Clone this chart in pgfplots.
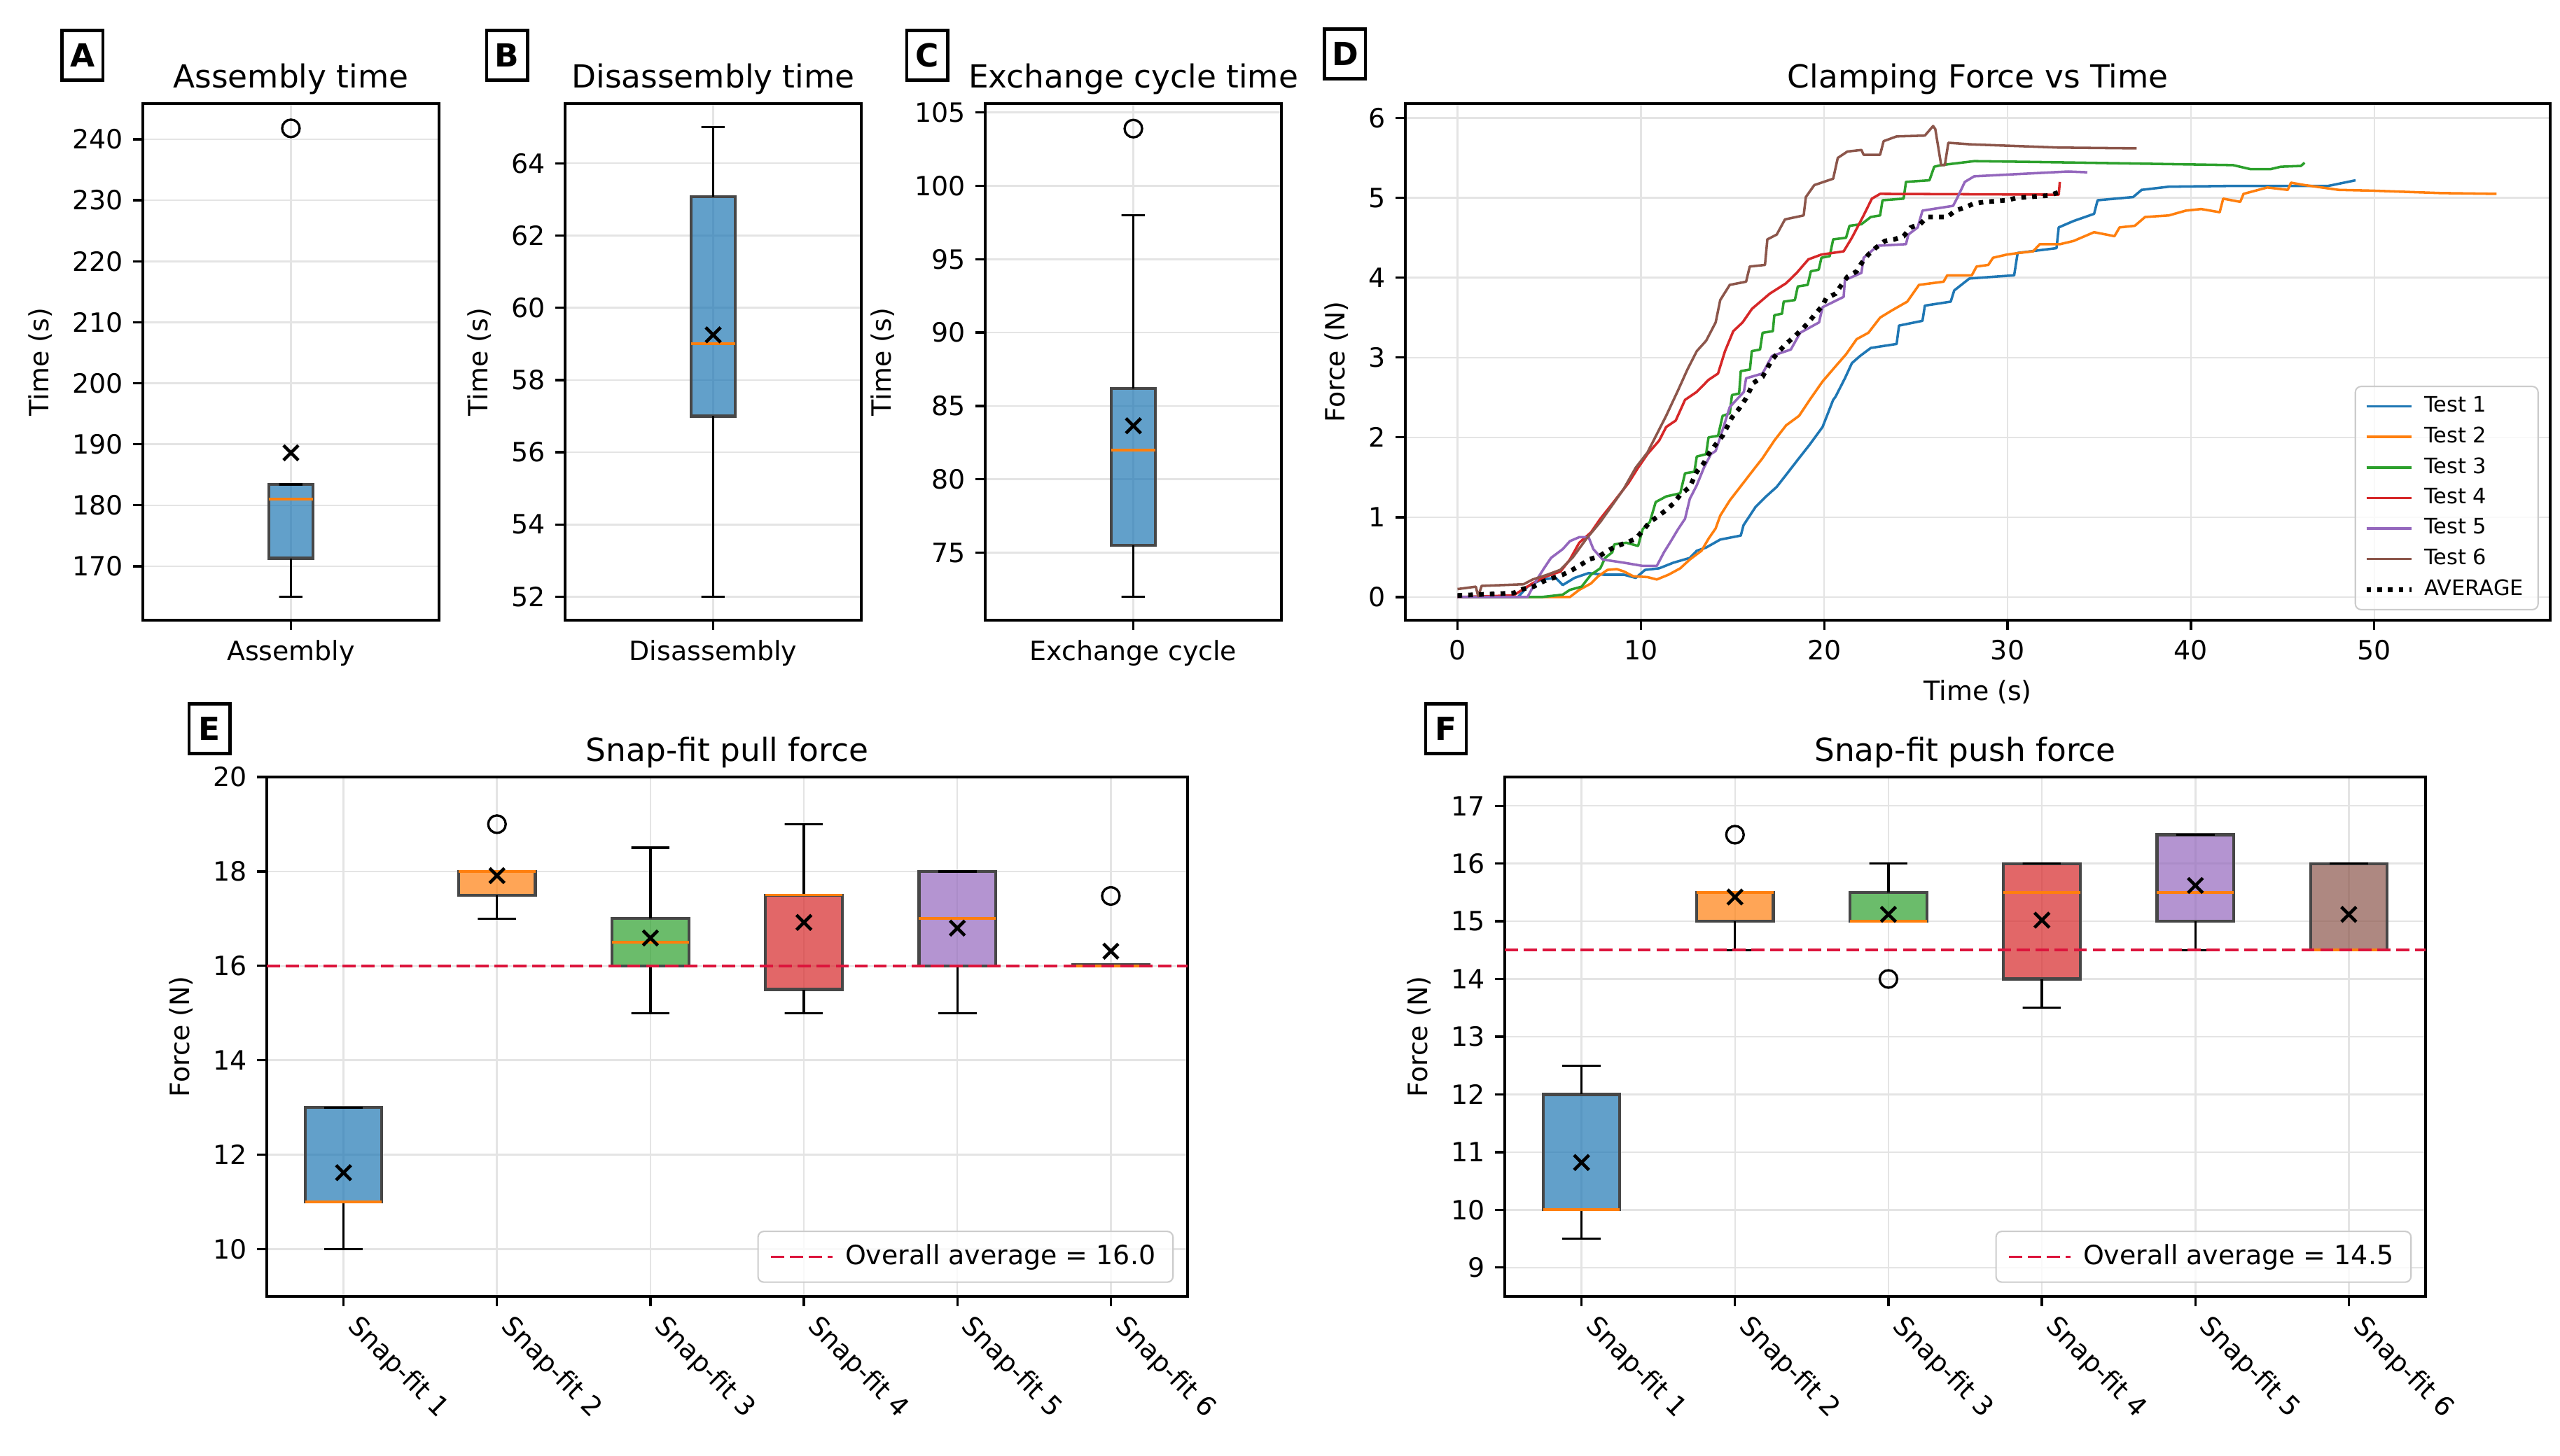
\documentclass[border=0pt]{standalone}
\usepackage{pgfplots}
\pgfplotsset{compat=1.18}
\usepackage{fontspec}
\setmainfont{DejaVu Sans}

\definecolor{tabblue}{HTML}{1F77B4}
\definecolor{taborange}{HTML}{FF7F0E}
\definecolor{tabgreen}{HTML}{2CA02C}
\definecolor{tabred}{HTML}{D62728}
\definecolor{tabpurple}{HTML}{9467BD}
\definecolor{tabbrown}{HTML}{8C564B}
\definecolor{gridgray}{HTML}{E4E4E4}
\definecolor{avgred}{HTML}{DC143C}

\newcommand{\fsTick}{\fontsize{9.1}{11}\selectfont}
\newcommand{\fsTitle}{\fontsize{10.9}{13}\selectfont}

\pgfplotsset{
  panel/.style={
    scale only axis,
    anchor=south west,
    axis line style={line width=0.9pt},
    tick style={line width=0.8pt, black},
    major tick length=3.3pt,
    tick align=outside,
    tick pos=left,
    grid=major,
    grid style={gridgray, line width=0.6pt},
    enlargelimits=false,
    /pgf/number format/assume math mode=true,
    tick label style={font=\fsTick},
    label style={font=\fsTick},
    title style={font=\fsTitle, yshift=-6.3pt},
  },
  whisk/.style={black, line width=0.8pt, forget plot},
  medl/.style={taborange, line width=0.9pt, forget plot},
  boxs/.style={draw=black!72, fill=#1, fill opacity=0.7, line width=1pt, forget plot},
  outl/.style={only marks, mark=o, mark size=3pt, mark options={black, line width=0.8pt}, forget plot},
  meanmark/.style={only marks, mark=x, mark size=3.6pt, mark options={black, line width=1.1pt}, forget plot},
  pl/.style={#1, line width=0.85pt, line join=round},
  snapx/.style={xtick={1,...,6},
    xticklabels={Snap-fit 1,Snap-fit 2,Snap-fit 3,Snap-fit 4,Snap-fit 5,Snap-fit 6},
    xticklabel style={xshift=6pt, yshift=2.5pt, rotate=-45, anchor=north west, font=\fsTick},
    legend image code/.code={\draw[##1] (0pt,0pt) -- (21pt,0pt);},
    legend style={at={(0.985,0.026)}, anchor=south east, draw=black!20, rounded corners=2pt,
      fill=white, fill opacity=0.8, text opacity=1, font=\fsTick, inner xsep=4pt, inner ysep=2.5pt,
      line width=0.5pt, column sep=2pt}},
}

\begin{document}
\begin{tikzpicture}
\useasboundingbox (0,0) rectangle (877.44pt,498.96pt);

% ---------- A ----------
\begin{axis}[panel, at={(48.96pt,286.32pt)}, width=101.5pt, height=177.1pt,
  xmin=0.5, xmax=1.5, ymin=161.15, ymax=245.85, xtick={1}, xticklabels={Assembly},
  ytick={170,180,...,240}, ylabel={Time (s)}, title={Assembly time}]
\addplot[boxs=tabblue] coordinates {(0.925,171.3) (1.075,171.3) (1.075,183.4) (0.925,183.4)} -- cycle;
\addplot[whisk] coordinates {(1,171.3) (1,165) (0.96,165) (1.04,165)};
\addplot[whisk] coordinates {(1,183.4) (0.96,183.4) (1.04,183.4)};
\addplot[medl] coordinates {(0.925,181) (1.075,181)};
\addplot[outl] coordinates {(1,241.8)};
\addplot[meanmark] coordinates {(1,188.6)};
\end{axis}

% ---------- B ----------
\begin{axis}[panel, at={(193.7pt,286.32pt)}, width=101.5pt, height=177.1pt,
  xmin=0.5, xmax=1.5, ymin=51.35, ymax=65.65, xtick={1}, xticklabels={Disassembly},
  ytick={52,54,...,64}, ylabel={Time (s)}, title={Disassembly time}]
\addplot[boxs=tabblue] coordinates {(0.925,57) (1.075,57) (1.075,63.08) (0.925,63.08)} -- cycle;
\addplot[whisk] coordinates {(1,57) (1,52) (0.96,52) (1.04,52)};
\addplot[whisk] coordinates {(1,63.08) (1,65) (0.96,65) (1.04,65)};
\addplot[medl] coordinates {(0.925,59) (1.075,59)};
\addplot[meanmark] coordinates {(1,59.25)};
\end{axis}

% ---------- C ----------
\begin{axis}[panel, at={(337.7pt,286.32pt)}, width=101.5pt, height=177.1pt,
  xmin=0.5, xmax=1.5, ymin=70.4, ymax=105.6, xtick={1}, xticklabels={Exchange cycle},
  ytick={75,80,...,105}, ylabel={Time (s)}, title={Exchange cycle time}]
\addplot[boxs=tabblue] coordinates {(0.925,75.5) (1.075,75.5) (1.075,86.2) (0.925,86.2)} -- cycle;
\addplot[whisk] coordinates {(1,75.5) (1,72) (0.96,72) (1.04,72)};
\addplot[whisk] coordinates {(1,86.2) (1,98) (0.96,98) (1.04,98)};
\addplot[medl] coordinates {(0.925,82) (1.075,82)};
\addplot[outl] coordinates {(1,103.9)};
\addplot[meanmark] coordinates {(1,83.65)};
\end{axis}

% ---------- D ----------
\begin{axis}[panel, at={(481.7pt,286.32pt)}, width=392.4pt, height=177.1pt,
  xmin=-2.84, xmax=59.6, ymin=-0.29, ymax=6.18, xtick={0,10,...,50}, ytick={0,1,...,6},
  xlabel={Time (s)}, ylabel={Force (N)}, title={Clamping Force vs Time},
  legend cell align=left,
  legend image code/.code={\draw[#1] (0pt,0pt) -- (15.5pt,0pt);},
  legend style={at={(0.99,0.019)}, anchor=south east, draw=black!20, rounded corners=2pt,
    fill=white, fill opacity=0.8, text opacity=1, font=\fontsize{7.3}{8.8}\selectfont,
    row sep=-0.4pt, column sep=1.5pt, inner xsep=3pt, inner ysep=1.4pt, line width=0.5pt}]
\addplot[pl=tabblue] coordinates {(0,0) (3.3,0) (3.82,0.13) (4.59,0.22) (5.36,0.24) (5.74,0.15) (6.38,0.24) (7.15,0.3) (7.97,0.28) (9.08,0.28) (9.72,0.24) (10.23,0.34) (11.0,0.36) (11.77,0.43) (12.67,0.49) (13.05,0.58) (13.56,0.62) (14.33,0.72) (15.45,0.77) (15.6,0.9) (16.26,1.13) (16.83,1.26) (17.41,1.38) (17.92,1.53) (18.56,1.72) (19.21,1.91) (19.91,2.13) (20.49,2.47) (20.62,2.51) (21.13,2.74) (21.51,2.93) (21.96,3.02) (22.54,3.12) (23.95,3.17) (24.08,3.4) (25.36,3.46) (25.49,3.65) (26.9,3.7) (27.09,3.84) (27.92,3.99) (30.36,4.03) (30.55,4.31) (32.67,4.37) (32.79,4.63) (33.6,4.71) (34.72,4.8) (34.91,4.97) (36.85,5.01) (37.31,5.1) (38.8,5.14) (42.5,5.15) (47.5,5.15) (48.98,5.22)};
\addlegendentry{Test 1}
\addplot[pl=taborange] coordinates {(0,0) (6.13,0) (6.64,0.09) (7.28,0.17) (7.67,0.26) (8.18,0.34) (8.69,0.35) (9.08,0.32) (9.59,0.26) (10.36,0.25) (10.87,0.22) (11.51,0.28) (12.15,0.36) (12.67,0.47) (13.31,0.58) (13.69,0.73) (14.08,0.86) (14.33,1.02) (14.85,1.21) (15.49,1.4) (16.06,1.57) (16.64,1.74) (17.28,1.96) (17.92,2.15) (18.63,2.27) (19.21,2.47) (19.91,2.7) (20.62,2.89) (21.19,3.04) (21.77,3.23) (22.41,3.31) (23.05,3.5) (23.69,3.59) (24.53,3.7) (25.17,3.91) (26.51,3.95) (26.71,4.03) (28.05,4.03) (28.31,4.14) (28.95,4.16) (29.21,4.25) (29.97,4.29) (30.62,4.31) (31.39,4.33) (31.76,4.42) (32.87,4.42) (33.6,4.46) (34.72,4.57) (35.83,4.52) (36.11,4.63) (36.94,4.65) (37.5,4.76) (38.8,4.78) (39.72,4.84) (40.56,4.86) (41.57,4.82) (41.76,4.99) (42.69,4.95) (42.87,5.05) (44.17,5.13) (45.28,5.1) (45.46,5.19) (46.2,5.16) (48.06,5.1) (49.91,5.09) (53.6,5.06) (56.67,5.05)};
\addlegendentry{Test 2}
\addplot[pl=tabgreen] coordinates {(0,0) (4.59,0) (5.74,0.03) (6.13,0.09) (6.77,0.13) (7.28,0.28) (7.79,0.36) (8.05,0.49) (8.44,0.56) (8.56,0.66) (9.21,0.68) (9.85,0.64) (10.1,0.85) (10.49,0.94) (10.81,1.19) (11.38,1.26) (12.15,1.3) (12.41,1.55) (12.92,1.57) (13.05,1.76) (13.56,1.79) (13.69,2.0) (14.21,2.02) (14.46,2.27) (14.85,2.3) (14.97,2.53) (15.36,2.55) (15.45,2.83) (15.95,2.85) (16.05,3.08) (16.5,3.1) (16.64,3.31) (17.2,3.33) (17.28,3.53) (17.7,3.55) (17.79,3.7) (18.4,3.72) (18.56,3.89) (19.1,3.91) (19.27,4.08) (19.7,4.1) (19.85,4.25) (20.3,4.27) (20.49,4.48) (21.19,4.5) (21.38,4.65) (22.03,4.67) (22.54,4.76) (23.05,4.78) (23.18,4.97) (24.33,4.99) (24.46,5.2) (25.74,5.22) (26.0,5.39) (26.38,5.41) (28.18,5.46) (31.39,5.45) (36.94,5.43) (42.3,5.41) (43.24,5.36) (44.35,5.36) (44.9,5.39) (46.0,5.4) (46.2,5.44)};
\addlegendentry{Test 3}
\addplot[pl=tabred] coordinates {(0,0) (3.05,0.02) (4.08,0.17) (4.85,0.26) (5.62,0.32) (6.13,0.47) (6.64,0.68) (7.28,0.81) (7.79,0.98) (8.31,1.13) (8.82,1.28) (9.33,1.43) (9.85,1.62) (10.36,1.79) (11.0,1.96) (11.38,2.13) (11.9,2.21) (12.41,2.47) (13.05,2.57) (13.69,2.72) (14.21,2.8) (14.59,3.08) (15.04,3.33) (15.55,3.44) (16.06,3.61) (17.03,3.8) (17.92,3.93) (18.5,4.06) (19.14,4.23) (19.85,4.29) (21.06,4.33) (21.51,4.5) (22.15,4.78) (22.6,4.99) (23.05,5.05) (32.79,5.04) (32.85,5.2)};
\addlegendentry{Test 4}
\addplot[pl=tabpurple] coordinates {(0,0) (3.82,0) (4.33,0.22) (4.72,0.36) (5.1,0.49) (5.74,0.6) (6.13,0.7) (6.64,0.75) (7.15,0.75) (7.41,0.6) (7.92,0.47) (9.08,0.43) (10.1,0.39) (10.87,0.39) (11.26,0.56) (11.64,0.7) (12.03,0.85) (12.41,0.98) (12.67,1.23) (13.05,1.4) (13.44,1.62) (13.82,1.79) (14.08,1.83) (14.33,2.0) (14.85,2.38) (15.62,2.57) (15.74,2.74) (16.64,2.8) (17.15,3.02) (18.18,3.1) (18.69,3.31) (19.72,3.44) (19.91,3.63) (21.06,3.76) (21.13,3.97) (22.03,4.06) (22.15,4.25) (22.92,4.4) (24.46,4.42) (24.59,4.54) (25.1,4.63) (25.36,4.84) (27.03,4.9) (27.28,5.01) (27.67,5.2) (28.18,5.27) (33.3,5.33) (34.35,5.32)};
\addlegendentry{Test 5}
\addplot[pl=tabbrown] coordinates {(0,0.1) (1.0,0.13) (1.13,0.01) (1.32,0.14) (2.5,0.15) (3.6,0.16) (4.1,0.22) (4.9,0.28) (5.6,0.34) (6.3,0.5) (7.03,0.73) (7.79,0.94) (8.44,1.15) (9.08,1.36) (9.72,1.62) (10.36,1.81) (10.87,2.04) (11.38,2.27) (12.03,2.59) (12.54,2.85) (13.05,3.08) (13.56,3.21) (14.08,3.44) (14.33,3.72) (14.85,3.91) (15.74,3.95) (15.94,4.14) (16.77,4.16) (16.9,4.48) (17.41,4.54) (17.86,4.73) (18.88,4.78) (19.0,5.01) (19.46,5.16) (20.49,5.24) (20.74,5.5) (21.26,5.58) (22.03,5.6) (22.15,5.54) (23.05,5.54) (23.24,5.71) (23.95,5.77) (25.49,5.78) (25.94,5.9) (26.06,5.86) (26.38,5.41) (26.58,5.41) (26.77,5.69) (28,5.67) (32.78,5.63) (37.04,5.62)};
\addlegendentry{Test 6}
\addplot[black, line width=1.6pt, dash pattern=on 1.6pt off 2.1pt] coordinates {(0,0.02) (3.05,0.05) (3.56,0.1) (4.14,0.13) (4.72,0.2) (5.23,0.24) (5.74,0.28) (6.26,0.34) (6.77,0.41) (7.15,0.47) (7.73,0.51) (8.18,0.58) (8.69,0.64) (9.21,0.68) (9.72,0.73) (10.1,0.83) (10.49,0.94) (10.87,1.0) (11.38,1.09) (11.77,1.17) (12.15,1.28) (12.67,1.38) (13.05,1.57) (13.44,1.68) (13.69,1.79) (14.08,1.91) (14.46,2.02) (14.97,2.25) (15.36,2.36) (15.74,2.49) (16.13,2.68) (16.64,2.76) (17.15,2.97) (17.54,3.08) (17.92,3.17) (18.31,3.25) (18.82,3.36) (19.14,3.44) (19.53,3.55) (19.91,3.65) (20.1,3.74) (20.62,3.8) (21.0,3.93) (21.26,4.01) (21.77,4.08) (22.03,4.18) (22.41,4.29) (22.79,4.37) (23.31,4.46) (23.82,4.48) (24.33,4.52) (24.72,4.63) (25.23,4.67) (25.62,4.76) (26.71,4.76) (27.15,4.84) (27.67,4.88) (28.18,4.93) (28.82,4.95) (29.97,4.97) (30.49,5.0) (31.71,5.02) (32.28,5.03) (32.79,5.07)};
\addlegendentry{AVERAGE}
\end{axis}

% ---------- E ----------
\begin{axis}[panel, snapx, at={(91.44pt,54.48pt)}, width=315.6pt, height=178.1pt,
  xmin=0.5, xmax=6.5, ymin=9, ymax=20,
  ytick={10,12,...,20}, ylabel={Force (N)}, title={Snap-fit pull force}]
% 1
\addplot[boxs=tabblue] coordinates {(0.75,11) (1.25,11) (1.25,13) (0.75,13)} -- cycle;
\addplot[whisk] coordinates {(1,11) (1,10) (0.875,10) (1.125,10)};
\addplot[whisk] coordinates {(1,13) (0.875,13) (1.125,13)};
\addplot[medl] coordinates {(0.75,11) (1.25,11)};
% 2
\addplot[boxs=taborange] coordinates {(1.75,17.5) (2.25,17.5) (2.25,18) (1.75,18)} -- cycle;
\addplot[whisk] coordinates {(2,17.5) (2,17) (1.875,17) (2.125,17)};
\addplot[whisk] coordinates {(2,18) (1.875,18) (2.125,18)};
\addplot[medl] coordinates {(1.75,18) (2.25,18)};
% 3
\addplot[boxs=tabgreen] coordinates {(2.75,16) (3.25,16) (3.25,17) (2.75,17)} -- cycle;
\addplot[whisk] coordinates {(3,16) (3,15) (2.875,15) (3.125,15)};
\addplot[whisk] coordinates {(3,17) (3,18.5) (2.875,18.5) (3.125,18.5)};
\addplot[medl] coordinates {(2.75,16.5) (3.25,16.5)};
% 4
\addplot[boxs=tabred] coordinates {(3.75,15.5) (4.25,15.5) (4.25,17.5) (3.75,17.5)} -- cycle;
\addplot[whisk] coordinates {(4,15.5) (4,15) (3.875,15) (4.125,15)};
\addplot[whisk] coordinates {(4,17.5) (4,19) (3.875,19) (4.125,19)};
\addplot[medl] coordinates {(3.75,17.5) (4.25,17.5)};
% 5
\addplot[boxs=tabpurple] coordinates {(4.75,16) (5.25,16) (5.25,18) (4.75,18)} -- cycle;
\addplot[whisk] coordinates {(5,16) (5,15) (4.875,15) (5.125,15)};
\addplot[whisk] coordinates {(5,18) (4.875,18) (5.125,18)};
\addplot[medl] coordinates {(4.75,17) (5.25,17)};
% 6
\addplot[boxs=tabbrown] coordinates {(5.75,16) (6.25,16) (6.25,16.03) (5.75,16.03)} -- cycle;
\addplot[whisk] coordinates {(5.875,16) (6.125,16)};
\addplot[medl] coordinates {(5.75,16) (6.25,16)};
\addplot[outl] coordinates {(2,19) (6,17.48)};
\addplot[meanmark] coordinates {(1,11.62) (2,17.91) (3,16.59) (4,16.92) (5,16.8) (6,16.31)};
\addplot[avgred, line width=0.9pt, dash pattern=on 4.5pt off 2pt] coordinates {(0.5,16) (6.5,16)};
\addlegendentry{Overall average = 16.0}
\end{axis}

% ---------- F ----------
\begin{axis}[panel, snapx, at={(515.76pt,54.48pt)}, width=315.6pt, height=178.1pt,
  xmin=0.5, xmax=6.5, ymin=8.5, ymax=17.5,
  ytick={9,10,...,17}, ylabel={Force (N)}, title={Snap-fit push force}]
% 1
\addplot[boxs=tabblue] coordinates {(0.75,10) (1.25,10) (1.25,12) (0.75,12)} -- cycle;
\addplot[whisk] coordinates {(1,10) (1,9.5) (0.875,9.5) (1.125,9.5)};
\addplot[whisk] coordinates {(1,12) (1,12.5) (0.875,12.5) (1.125,12.5)};
\addplot[medl] coordinates {(0.75,10) (1.25,10)};
% 2
\addplot[boxs=taborange] coordinates {(1.75,15) (2.25,15) (2.25,15.5) (1.75,15.5)} -- cycle;
\addplot[whisk] coordinates {(2,15) (2,14.5) (1.875,14.5) (2.125,14.5)};
\addplot[whisk] coordinates {(2,15.5) (1.875,15.5) (2.125,15.5)};
\addplot[medl] coordinates {(1.75,15.5) (2.25,15.5)};
% 3
\addplot[boxs=tabgreen] coordinates {(2.75,15) (3.25,15) (3.25,15.5) (2.75,15.5)} -- cycle;
\addplot[whisk] coordinates {(3,15) (2.875,15) (3.125,15)};
\addplot[whisk] coordinates {(3,15.5) (3,16) (2.875,16) (3.125,16)};
\addplot[medl] coordinates {(2.75,15) (3.25,15)};
% 4
\addplot[boxs=tabred] coordinates {(3.75,14) (4.25,14) (4.25,16) (3.75,16)} -- cycle;
\addplot[whisk] coordinates {(4,14) (4,13.5) (3.875,13.5) (4.125,13.5)};
\addplot[whisk] coordinates {(4,16) (3.875,16) (4.125,16)};
\addplot[medl] coordinates {(3.75,15.5) (4.25,15.5)};
% 5
\addplot[boxs=tabpurple] coordinates {(4.75,15) (5.25,15) (5.25,16.5) (4.75,16.5)} -- cycle;
\addplot[whisk] coordinates {(5,15) (5,14.5) (4.875,14.5) (5.125,14.5)};
\addplot[whisk] coordinates {(5,16.5) (4.875,16.5) (5.125,16.5)};
\addplot[medl] coordinates {(4.75,15.5) (5.25,15.5)};
% 6
\addplot[boxs=tabbrown] coordinates {(5.75,14.5) (6.25,14.5) (6.25,16) (5.75,16)} -- cycle;
\addplot[whisk] coordinates {(6,14.5) (5.875,14.5) (6.125,14.5)};
\addplot[whisk] coordinates {(6,16) (5.875,16) (6.125,16)};
\addplot[medl] coordinates {(5.75,14.5) (6.25,14.5)};
\addplot[outl] coordinates {(2,16.5) (3,14)};
\addplot[meanmark] coordinates {(1,10.82) (2,15.42) (3,15.12) (4,15.02) (5,15.62) (6,15.12)};
\addplot[avgred, line width=0.9pt, dash pattern=on 4.5pt off 2pt] coordinates {(0.5,14.5) (6.5,14.5)};
\addlegendentry{Overall average = 14.5}
\end{axis}

% ---------- panel letters ----------
\tikzset{plabel/.style={draw, line width=1.1pt, font=\bfseries\fsTitle, minimum width=14pt, minimum height=17pt, inner sep=0pt}}
\node[plabel] at (28.3pt,480.0pt) {A};
\node[plabel] at (173.8pt,480.0pt) {B};
\node[plabel] at (317.8pt,480.0pt) {C};
\node[plabel] at (461.0pt,480.5pt) {D};
\node[plabel] at (71.8pt,249.1pt) {E};
\node[plabel] at (495.6pt,249.1pt) {F};
\end{tikzpicture}
\end{document}
